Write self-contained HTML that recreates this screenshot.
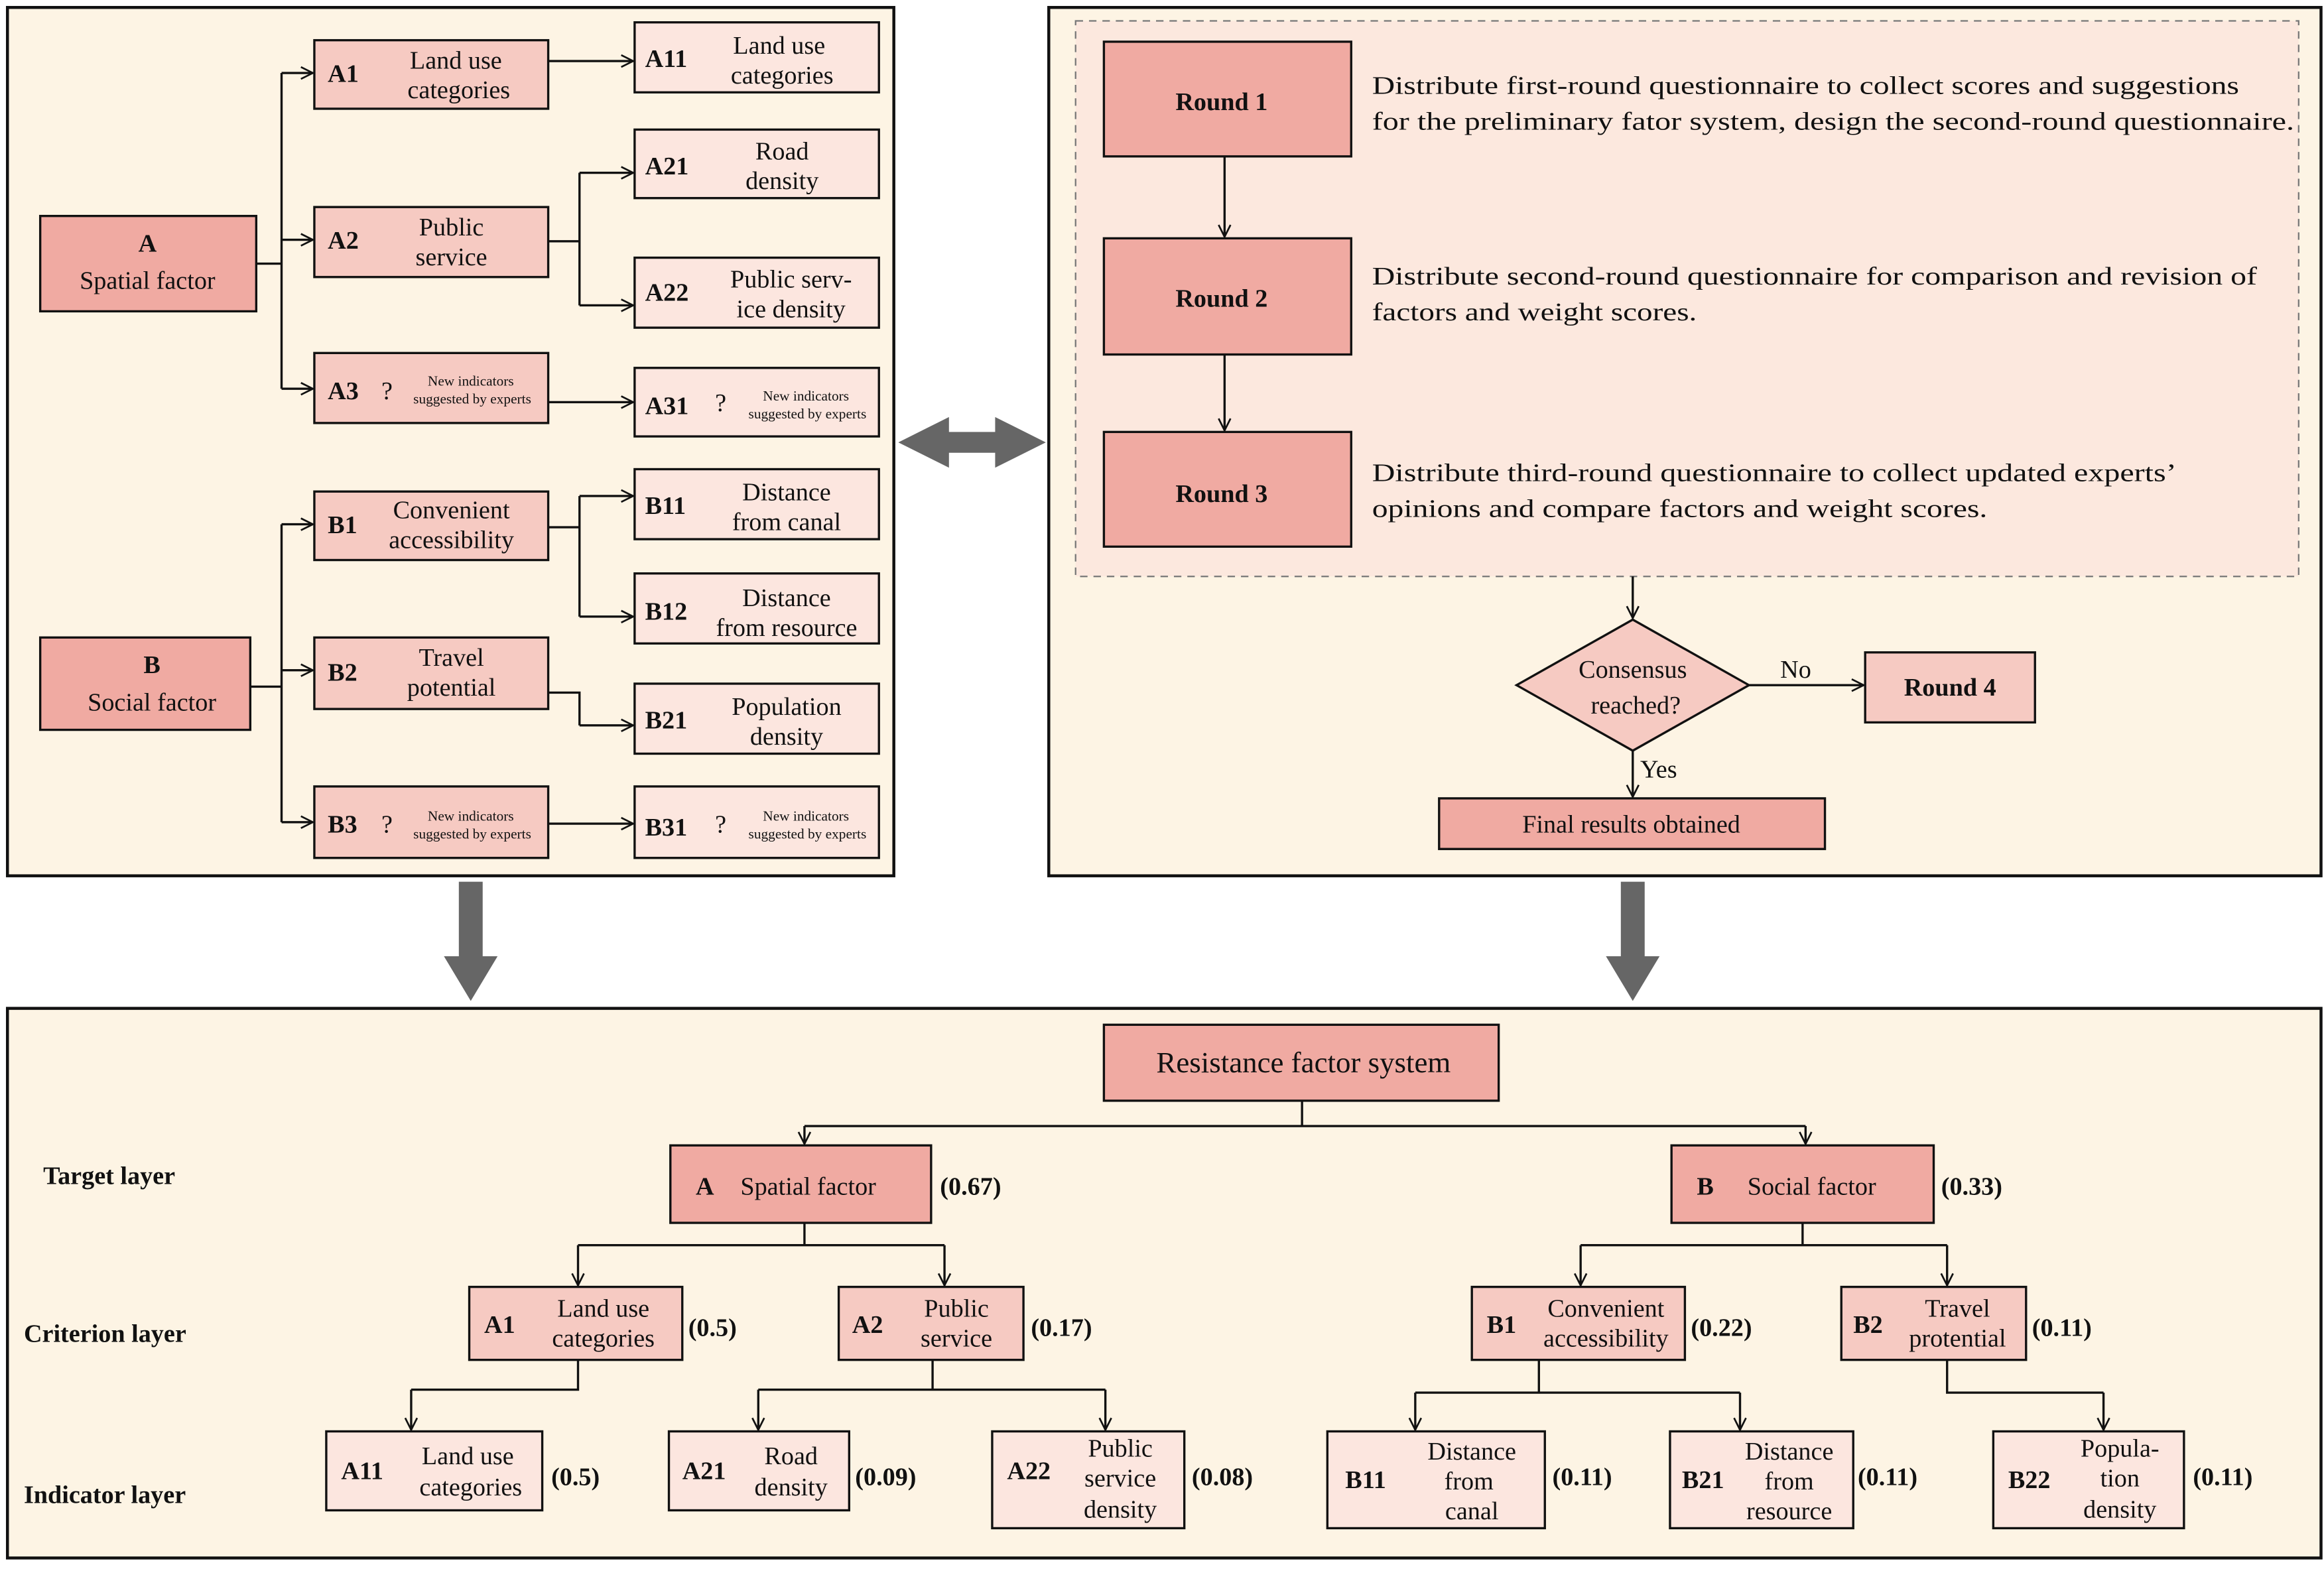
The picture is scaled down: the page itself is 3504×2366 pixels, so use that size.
<!DOCTYPE html>
<html><head><meta charset="utf-8"><style>html,body{margin:0;padding:0;background:#fff}svg{display:block}</style></head>
<body>
<svg width="3504" height="2366" viewBox="0 0 1560 1053.4" preserveAspectRatio="none" xmlns="http://www.w3.org/2000/svg" font-family="'Liberation Serif', serif" fill="#111">
<defs>
<marker id="ar" markerWidth="10" markerHeight="10" refX="9" refY="5" orient="auto" markerUnits="userSpaceOnUse">
<path d="M1,1 L9,5 L1,9" fill="none" stroke="#111" stroke-width="1.2"/></marker>
</defs>
<rect width="1560" height="1053.4" fill="#fff"/>
<!-- panels -->
<rect x="5" y="5" width="595" height="583" fill="#fdf4e4" stroke="#111" stroke-width="2"/>
<rect x="704" y="5" width="854" height="583" fill="#fdf4e4" stroke="#111" stroke-width="2"/>
<rect x="722" y="14" width="821" height="373" fill="#fce8de" stroke="#777" stroke-width="1" stroke-dasharray="5,4"/>
<rect x="5" y="677" width="1553" height="369" fill="#fdf4e4" stroke="#111" stroke-width="2"/>

<g stroke="#111" stroke-width="1.5" fill="none">
<!-- left panel connectors -->
<path d="M172,177 H189 M189,49 V261"/>
<path d="M189,49 H210" marker-end="url(#ar)"/><path d="M189,161 H210" marker-end="url(#ar)"/><path d="M189,261 H210" marker-end="url(#ar)"/>
<path d="M368,41 H425" marker-end="url(#ar)"/>
<path d="M368,162 H389 M389,116 V205"/>
<path d="M389,116 H425" marker-end="url(#ar)"/><path d="M389,205 H425" marker-end="url(#ar)"/>
<path d="M368,270 H425" marker-end="url(#ar)"/>
<path d="M168,461 H189 M189,352 V552"/>
<path d="M189,352 H210" marker-end="url(#ar)"/><path d="M189,450 H210" marker-end="url(#ar)"/><path d="M189,552 H210" marker-end="url(#ar)"/>
<path d="M368,354 H389 M389,333 V414"/>
<path d="M389,333 H425" marker-end="url(#ar)"/><path d="M389,414 H425" marker-end="url(#ar)"/>
<path d="M368,465 H389 V487"/><path d="M389,487 H425" marker-end="url(#ar)"/>
<path d="M368,553 H425" marker-end="url(#ar)"/>
<!-- right -->
<path d="M822,105 V159" marker-end="url(#ar)"/>
<path d="M822,238 V289" marker-end="url(#ar)"/>
<path d="M1096,387 V415" marker-end="url(#ar)"/>
<path d="M1174,460 H1251" marker-end="url(#ar)"/>
<path d="M1096,504 V535" marker-end="url(#ar)"/>
<!-- bottom -->
<path d="M874,739 V756 M540,756 H1212"/>
<path d="M540,756 V768" marker-end="url(#ar)"/><path d="M1212,756 V768" marker-end="url(#ar)"/>
<path d="M540,821 V836 M388,836 H634"/>
<path d="M388,836 V863" marker-end="url(#ar)"/><path d="M634,836 V863" marker-end="url(#ar)"/>
<path d="M1210,821 V836 M1061,836 H1307"/>
<path d="M1061,836 V863" marker-end="url(#ar)"/><path d="M1307,836 V863" marker-end="url(#ar)"/>
<path d="M388,913 V933 H276"/><path d="M276,933 V960" marker-end="url(#ar)"/>
<path d="M626,913 V933 M509,933 H742"/><path d="M509,933 V960" marker-end="url(#ar)"/><path d="M742,933 V960" marker-end="url(#ar)"/>
<path d="M1033,913 V935 M950,935 H1168"/><path d="M950,935 V960" marker-end="url(#ar)"/><path d="M1168,935 V960" marker-end="url(#ar)"/>
<path d="M1307,913 V935 H1412"/><path d="M1412,935 V960" marker-end="url(#ar)"/>
</g>

<!-- grey arrows -->
<g fill="#666">
<polygon points="603,297 637,280 637,290 668,290 668,280 702,297 668,314 668,304 637,304 637,314"/>
<polygon points="308,592 324,592 324,642 334,642 316,672 298,642 308,642"/>
<polygon points="1088,592 1104,592 1104,642 1114,642 1096,672 1078,642 1088,642"/>
</g>

<!-- boxes -->
<g stroke="#111" stroke-width="1.5">
<rect x="27" y="145" width="145" height="64" fill="#f0aaa2"/>
<rect x="211" y="27" width="157" height="46" fill="#f6cac2"/>
<rect x="211" y="139" width="157" height="47" fill="#f6cac2"/>
<rect x="211" y="237" width="157" height="47" fill="#f6cac2"/>
<rect x="426" y="15" width="164" height="47" fill="#fce6df"/>
<rect x="426" y="87" width="164" height="46" fill="#fce6df"/>
<rect x="426" y="173" width="164" height="47" fill="#fce6df"/>
<rect x="426" y="247" width="164" height="46" fill="#fce6df"/>
<rect x="27" y="428" width="141" height="62" fill="#f0aaa2"/>
<rect x="211" y="330" width="157" height="46" fill="#f6cac2"/>
<rect x="211" y="428" width="157" height="48" fill="#f6cac2"/>
<rect x="211" y="528" width="157" height="48" fill="#f6cac2"/>
<rect x="426" y="315" width="164" height="47" fill="#fce6df"/>
<rect x="426" y="385" width="164" height="47" fill="#fce6df"/>
<rect x="426" y="459" width="164" height="47" fill="#fce6df"/>
<rect x="426" y="528" width="164" height="48" fill="#fce6df"/>
<rect x="741" y="28" width="166" height="77" fill="#f0aaa2"/>
<rect x="741" y="160" width="166" height="78" fill="#f0aaa2"/>
<rect x="741" y="290" width="166" height="77" fill="#f0aaa2"/>
<polygon points="1096,416 1174,460 1096,504 1018,460" fill="#f6cac2"/>
<rect x="1252" y="438" width="114" height="47" fill="#f6cac2"/>
<rect x="966" y="536" width="259" height="34" fill="#f0aaa2"/>
<rect x="741" y="688" width="265" height="51" fill="#f0aaa2"/>
<rect x="450" y="769" width="175" height="52" fill="#f0aaa2"/>
<rect x="1122" y="769" width="176" height="52" fill="#f0aaa2"/>
<rect x="315" y="864" width="143" height="49" fill="#f6cac2"/>
<rect x="563" y="864" width="124" height="49" fill="#f6cac2"/>
<rect x="988" y="864" width="143" height="49" fill="#f6cac2"/>
<rect x="1236" y="864" width="124" height="49" fill="#f6cac2"/>
<rect x="219" y="961" width="145" height="53" fill="#fce6df"/>
<rect x="449" y="961" width="121" height="53" fill="#fce6df"/>
<rect x="666" y="961" width="129" height="65" fill="#fce6df"/>
<rect x="891" y="961" width="146" height="65" fill="#fce6df"/>
<rect x="1121" y="961" width="123" height="65" fill="#fce6df"/>
<rect x="1338" y="961" width="128" height="65" fill="#fce6df"/>
</g>

<!-- left text -->
<g font-size="17">
<text x="99" y="169" text-anchor="middle" font-weight="bold">A</text>
<text x="99" y="194" text-anchor="middle">Spatial factor</text>
<text x="220" y="55" font-weight="bold">A1</text>
<text x="306" y="46" text-anchor="middle">Land use</text><text x="308" y="66" text-anchor="middle">categories</text>
<text x="220" y="167" font-weight="bold">A2</text>
<text x="303" y="158" text-anchor="middle">Public</text><text x="303" y="178" text-anchor="middle">service</text>
<text x="220" y="268" font-weight="bold">A3</text><text x="256" y="268">?</text>
<text x="433" y="45" font-weight="bold">A11</text>
<text x="523" y="36" text-anchor="middle">Land use</text><text x="525" y="56" text-anchor="middle">categories</text>
<text x="433" y="117" font-weight="bold">A21</text>
<text x="525" y="107" text-anchor="middle">Road</text><text x="525" y="127" text-anchor="middle">density</text>
<text x="433" y="202" font-weight="bold">A22</text>
<text x="531" y="193" text-anchor="middle">Public serv-</text><text x="531" y="213" text-anchor="middle">ice density</text>
<text x="433" y="278" font-weight="bold">A31</text><text x="480" y="276">?</text>
<text x="102" y="452" text-anchor="middle" font-weight="bold">B</text>
<text x="102" y="477" text-anchor="middle">Social factor</text>
<text x="220" y="358" font-weight="bold">B1</text>
<text x="303" y="348" text-anchor="middle">Convenient</text><text x="303" y="368" text-anchor="middle">accessibility</text>
<text x="220" y="457" font-weight="bold">B2</text>
<text x="303" y="447" text-anchor="middle">Travel</text><text x="303" y="467" text-anchor="middle">potential</text>
<text x="220" y="559" font-weight="bold">B3</text><text x="256" y="559">?</text>
<text x="433" y="345" font-weight="bold">B11</text>
<text x="528" y="336" text-anchor="middle">Distance</text><text x="528" y="356" text-anchor="middle">from canal</text>
<text x="433" y="416" font-weight="bold">B12</text>
<text x="528" y="407" text-anchor="middle">Distance</text><text x="528" y="427" text-anchor="middle">from resource</text>
<text x="433" y="489" font-weight="bold">B21</text>
<text x="528" y="480" text-anchor="middle">Population</text><text x="528" y="500" text-anchor="middle">density</text>
<text x="433" y="561" font-weight="bold">B31</text><text x="480" y="559">?</text>
</g>
<g font-size="9.5" text-anchor="middle">
<text x="316" y="259">New indicators</text><text x="317" y="271">suggested by experts</text>
<text x="541" y="269">New indicators</text><text x="542" y="281">suggested by experts</text>
<text x="316" y="551">New indicators</text><text x="317" y="563">suggested by experts</text>
<text x="541" y="551">New indicators</text><text x="542" y="563">suggested by experts</text>
</g>

<!-- right text -->
<g font-size="17">
<text x="820" y="74" text-anchor="middle" font-weight="bold">Round 1</text>
<text x="820" y="206" text-anchor="middle" font-weight="bold">Round 2</text>
<text x="820" y="337" text-anchor="middle" font-weight="bold">Round 3</text>
<text x="921" y="63" textLength="582" lengthAdjust="spacingAndGlyphs">Distribute first-round questionnaire to collect scores and suggestions</text>
<text x="921" y="87" textLength="619" lengthAdjust="spacingAndGlyphs">for the preliminary fator system,  design the second-round questionnaire.</text>
<text x="921" y="191" textLength="594" lengthAdjust="spacingAndGlyphs">Distribute second-round questionnaire for comparison and revision of</text>
<text x="921" y="215" textLength="218" lengthAdjust="spacingAndGlyphs">factors and weight scores.</text>
<text x="921" y="323" textLength="540" lengthAdjust="spacingAndGlyphs">Distribute third-round questionnaire to collect updated experts’</text>
<text x="921" y="347" textLength="413" lengthAdjust="spacingAndGlyphs">opinions and compare factors and weight scores.</text>
<text x="1096" y="455" text-anchor="middle">Consensus</text>
<text x="1098" y="479" text-anchor="middle">reached?</text>
<text x="1195" y="455">No</text>
<text x="1101" y="522">Yes</text>
<text x="1309" y="467" text-anchor="middle" font-weight="bold">Round 4</text>
<text x="1095" y="559" text-anchor="middle">Final results obtained</text>
</g>

<!-- bottom text -->
<g font-size="17">
<text x="29" y="795" font-weight="bold">Target layer</text>
<text x="16" y="901" font-weight="bold">Criterion layer</text>
<text x="16" y="1009" font-weight="bold">Indicator layer</text>
<text x="875" y="720" text-anchor="middle" font-size="20">Resistance factor system</text>
<text x="467" y="802" font-weight="bold">A</text><text x="497" y="802">Spatial factor</text>
<text x="631" y="802" font-weight="bold">(0.67)</text>
<text x="1139" y="802" font-weight="bold">B</text><text x="1173" y="802">Social factor</text>
<text x="1303" y="802" font-weight="bold">(0.33)</text>
<text x="325" y="895" font-weight="bold">A1</text>
<text x="405" y="884" text-anchor="middle">Land use</text><text x="405" y="904" text-anchor="middle">categories</text>
<text x="462" y="897" font-weight="bold">(0.5)</text>
<text x="572" y="895" font-weight="bold">A2</text>
<text x="642" y="884" text-anchor="middle">Public</text><text x="642" y="904" text-anchor="middle">service</text>
<text x="692" y="897" font-weight="bold">(0.17)</text>
<text x="998" y="895" font-weight="bold">B1</text>
<text x="1078" y="884" text-anchor="middle">Convenient</text><text x="1078" y="904" text-anchor="middle">accessibility</text>
<text x="1135" y="897" font-weight="bold">(0.22)</text>
<text x="1244" y="895" font-weight="bold">B2</text>
<text x="1314" y="884" text-anchor="middle">Travel</text><text x="1314" y="904" text-anchor="middle">protential</text>
<text x="1364" y="897" font-weight="bold">(0.11)</text>
<text x="229" y="993" font-weight="bold">A11</text>
<text x="314" y="983" text-anchor="middle">Land use</text><text x="316" y="1004" text-anchor="middle">categories</text>
<text x="370" y="997" font-weight="bold">(0.5)</text>
<text x="458" y="993" font-weight="bold">A21</text>
<text x="531" y="983" text-anchor="middle">Road</text><text x="531" y="1004" text-anchor="middle">density</text>
<text x="574" y="997" font-weight="bold">(0.09)</text>
<text x="676" y="993" font-weight="bold">A22</text>
<text x="752" y="978" text-anchor="middle">Public</text><text x="752" y="998" text-anchor="middle">service</text><text x="752" y="1019" text-anchor="middle">density</text>
<text x="800" y="997" font-weight="bold">(0.08)</text>
<text x="903" y="999" font-weight="bold">B11</text>
<text x="988" y="980" text-anchor="middle">Distance</text><text x="986" y="1000" text-anchor="middle">from</text><text x="988" y="1020" text-anchor="middle">canal</text>
<text x="1042" y="997" font-weight="bold">(0.11)</text>
<text x="1129" y="999" font-weight="bold">B21</text>
<text x="1201" y="980" text-anchor="middle">Distance</text><text x="1201" y="1000" text-anchor="middle">from</text><text x="1201" y="1020" text-anchor="middle">resource</text>
<text x="1247" y="997" font-weight="bold">(0.11)</text>
<text x="1348" y="999" font-weight="bold">B22</text>
<text x="1423" y="978" text-anchor="middle">Popula-</text><text x="1423" y="998" text-anchor="middle">tion</text><text x="1423" y="1019" text-anchor="middle">density</text>
<text x="1472" y="997" font-weight="bold">(0.11)</text>
</g>
</svg>
</body></html>
